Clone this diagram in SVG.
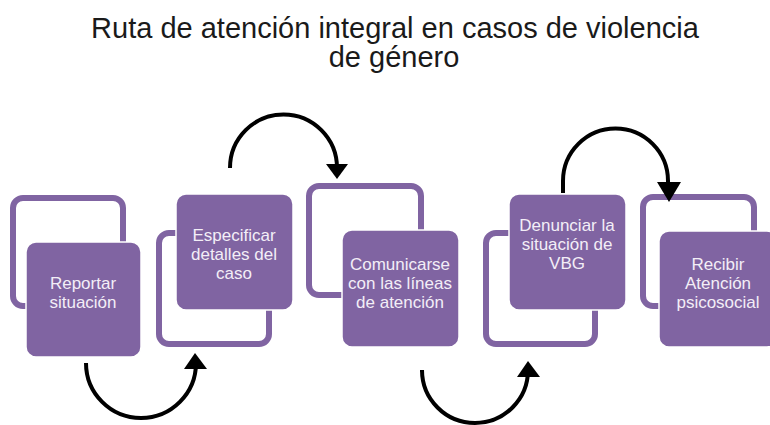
<svg xmlns="http://www.w3.org/2000/svg" width="770" height="425" viewBox="0 0 770 425">
<defs>
<style>
.title{font-family:"Liberation Sans",Arial,sans-serif;font-size:29px;fill:#1a1a1a;text-anchor:middle}
.out{fill:#ffffff;stroke:#8064a2;stroke-width:6}
.fill{fill:#8064a2;stroke:#ffffff;stroke-width:1.5}
.lbl{font-family:"Liberation Sans",Arial,sans-serif;font-size:17px;fill:#f3eef7;text-anchor:middle}
.arc{fill:none;stroke:#000;stroke-width:4}
.head{fill:#000}
</style>
</defs>
<rect width="770" height="425" fill="#ffffff"/>
<text class="title" x="395" y="38">Ruta de atención integral en casos de violencia</text>
<text class="title" x="394" y="67">de género</text>

<g id="node1">
<rect class="out" x="13" y="198" width="110" height="108" rx="10"/>
<rect class="fill" x="26" y="242" width="115" height="115" rx="10"/>
<text class="lbl" x="83" y="289">Reportar</text>
<text class="lbl" x="83" y="308">situación</text>
</g>
<g id="node2">
<rect class="out" x="159" y="233" width="110" height="111" rx="10"/>
<rect class="fill" x="176" y="194" width="117" height="116" rx="10"/>
<text class="lbl" x="234" y="241">Especificar</text>
<text class="lbl" x="234" y="260">detalles del</text>
<text class="lbl" x="234" y="279">caso</text>
</g>
<g id="node3">
<rect class="out" x="309" y="186" width="112" height="109" rx="10"/>
<rect class="fill" x="342" y="230" width="117" height="117" rx="10"/>
<text class="lbl" x="400" y="270">Comunicarse</text>
<text class="lbl" x="400" y="289">con las líneas</text>
<text class="lbl" x="400" y="308">de atención</text>
</g>
<g id="node4">
<rect class="out" x="486" y="233" width="109" height="111" rx="10"/>
<rect class="fill" x="509" y="194" width="117" height="116" rx="10"/>
<text class="lbl" x="567" y="231">Denunciar la</text>
<text class="lbl" x="567" y="250">situación de</text>
<text class="lbl" x="567" y="269">VBG</text>
</g>
<g id="node5">
<rect class="out" x="643" y="197" width="111" height="109" rx="10"/>
<rect class="fill" x="659" y="231" width="118" height="116" rx="10"/>
<text class="lbl" x="718" y="270">Recibir</text>
<text class="lbl" x="718" y="289">Atención</text>
<text class="lbl" x="718" y="308">psicosocial</text>
</g>

<g id="connectors">
<path class="arc" d="M86,363 A55,55 0 0 0 196,363 L196,368"/>
<polygon class="head" points="195,353 184,369 207,369"/>
<path class="arc" d="M230,168 A53.5,53.5 0 0 1 337,168"/>
<polygon class="head" points="337,179 326,164 348,164"/>
<path class="arc" d="M422,372 L422,370 A53,53 0 0 0 528,370 L528,375"/>
<polygon class="head" points="528,361 517,377 540,377"/>
<path class="arc" d="M563,193 L563,181 A52.5,52.5 0 0 1 668,181 L668,183"/>
<polygon class="head" points="669,202 657,182 681,182"/>
</g>
</svg>
